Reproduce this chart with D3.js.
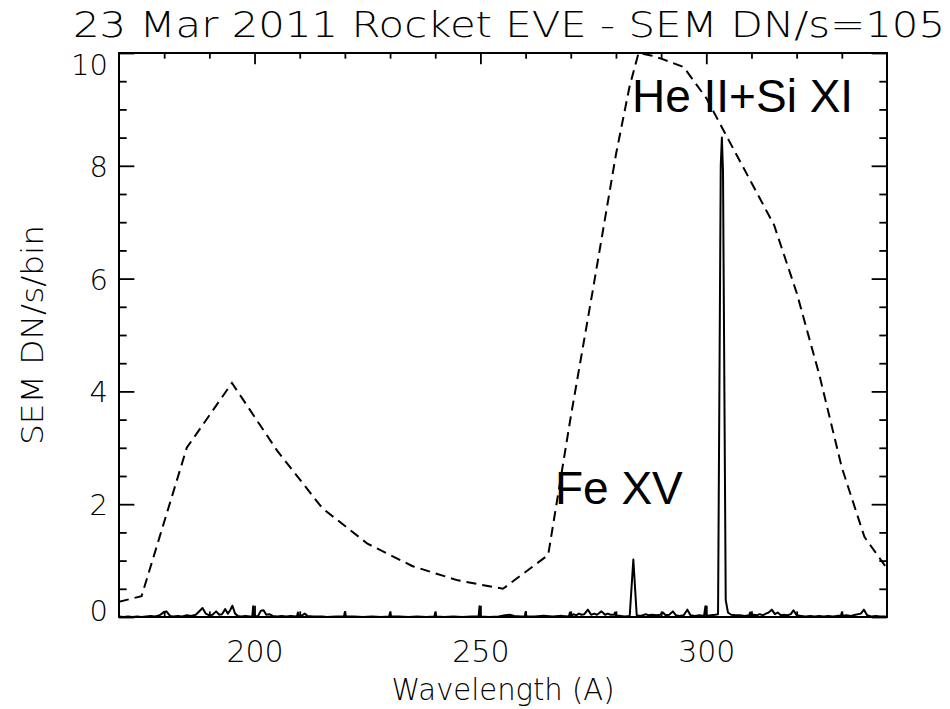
<!DOCTYPE html>
<html><head><meta charset="utf-8">
<script src="https://cdn.jsdelivr.net/npm/d3@7"></script>
<style>
body{margin:0;background:#fff}
svg{display:block;background:#fff}
.hf{font-family:'DejaVu Sans',sans-serif;font-weight:200;fill:#000}
.lab{font-family:'Liberation Sans',Arial,sans-serif;fill:#000}
</style></head>
<body><svg id="c" width="950" height="709"></svg>
<script>
// ---------- data ----------
const titleText = "23 Mar 2011 Rocket EVE - SEM DN/s=105";
const xTitle = "Wavelength (A)";
const yTitle = "SEM DN/s/bin";
const waveRange = [170, 340];
const fluxRange = [0, 10];
const xMajorTicks = [200, 250, 300];
const xMinorTicks = [180, 190, 210, 220, 230, 240, 260, 270, 280, 290, 310, 320, 330];
const yMajorTicks = [0, 2, 4, 6, 8, 10];
const yMinorTicks = [0.5, 1, 1.5, 2.5, 3, 3.5, 4.5, 5, 5.5, 6.5, 7, 7.5, 8.5, 9, 9.5];

// SEM response (dashed)
const respWave = [170, 175, 185, 195, 205, 215, 225, 235, 245, 255, 265, 270, 275, 280, 283, 285, 288, 290, 295, 300, 305, 310, 315, 320, 325, 330, 335, 340];
const respFlux = [0.27, 0.37, 3.0, 4.15, 2.95, 1.93, 1.3, 0.9, 0.65, 0.5, 1.1, 3.55, 5.85, 8.2, 9.4, 10.0, 9.95, 9.9, 9.75, 9.2, 8.45, 7.7, 6.95, 5.75, 4.3, 2.65, 1.42, 0.86];

// Rocket spectrum convolved to SEM (solid)
const specWave = [170,171,172,173,174,175,176,177,178,179,180,180.5,181.3,182,183,184,185,186,187,188,188.5,189.2,190,190.7,191.5,192.2,192.8,193.5,194.1,194.6,195.1,195.7,196.3,197,198,199,199.5,199.7,199.9,200.8,201.4,202,202.6,203.3,204,205,206,207,208,209.4,209.6,209.8,210.6,211.1,211.7,213,215,216,218,219.8,220,220.2,222,224,226,228,229.8,230,230.2,232,234,236,238,239.8,240,240.2,242,244,246,248,249.6,249.8,250,252,254,255.5,256.5,257.5,259,259.8,260,260.2,262,264,266,268,269.6,269.8,270,270.6,271.2,271.8,272.4,273,273.8,274.5,275.2,275.8,276.8,277.6,278.2,278.8,279.6,279.8,280,281,282,283.05,283.85,284.6,285.3,286,286.6,287.2,288,289,289.8,290.4,291,291.8,292.6,293.3,294,295,295.8,296.5,297.5,298.5,299.5,299.8,300,301,302,302.6,303.2,303.45,303.7,304.3,304.8,305.5,306.5,307.5,308.5,309.5,309.7,309.9,310.5,311.2,311.8,312.5,313.2,313.8,314.5,315.2,315.8,316.5,317.2,318,318.7,319.3,320,321,322,323,324,325,326,327,328,329,329.8,330,330.2,331,332,333,334.2,334.9,335.6,336.5,337.5,338.5,339.5,340];
const specFlux = [0.01,0.0,0.01,0.0,0.01,0.0,0.01,0.02,0.01,0.03,0.09,0.10,0.02,0.01,0.02,0.01,0.03,0.02,0.04,0.12,0.16,0.06,0.03,0.04,0.10,0.04,0.05,0.14,0.06,0.12,0.20,0.06,0.02,0.01,0.02,0.01,0.01,0.19,0.01,0.02,0.11,0.12,0.04,0.05,0.02,0.01,0.02,0.01,0.02,0.01,0.08,0.01,0.03,0.06,0.02,0.01,0.01,0.0,0.01,0.01,0.09,0.01,0.01,0.0,0.01,0.0,0.01,0.08,0.01,0.01,0.0,0.01,0.0,0.01,0.08,0.01,0.0,0.01,0.0,0.01,0.01,0.19,0.01,0.0,0.01,0.03,0.04,0.02,0.01,0.01,0.09,0.01,0.01,0.02,0.01,0.02,0.01,0.08,0.01,0.05,0.03,0.06,0.04,0.05,0.13,0.04,0.06,0.04,0.10,0.04,0.06,0.04,0.04,0.08,0.02,0.02,0.01,0.02,1.02,0.03,0.02,0.03,0.05,0.03,0.04,0.03,0.04,0.08,0.03,0.04,0.10,0.03,0.02,0.03,0.13,0.03,0.02,0.03,0.02,0.19,0.02,0.03,0.04,0.05,8.0,8.5,7.9,0.3,0.08,0.04,0.03,0.03,0.02,0.03,0.08,0.03,0.04,0.03,0.05,0.03,0.06,0.08,0.13,0.05,0.08,0.03,0.04,0.03,0.05,0.12,0.03,0.02,0.01,0.02,0.01,0.02,0.01,0.02,0.01,0.02,0.02,0.08,0.02,0.03,0.02,0.04,0.06,0.13,0.03,0.01,0.02,0.01,0.01,0.01];

const annotations = [
  {text: "Fe XV", wave: 266.5, flux: 2.0},
  {text: "He II+Si XI", wave: 283.55, flux: 8.95}
];

// ---------- layout ----------
const svg = d3.select('#c');
const L = 119, R = 887, T = 53, B = 617;
const x = d3.scaleLinear().domain(waveRange).range([L, R]);
const y = d3.scaleLinear().domain(fluxRange).range([B, T]);
const pw = R - L, ph = B - T;
const xMaj = ph * 0.02, xMin = xMaj / 2, yMaj = pw * 0.02, yMin = yMaj / 2;

svg.append('rect').attr('width', 950).attr('height', 709).attr('fill', '#fff');

svg.append('clipPath').attr('id', 'clip').append('rect')
  .attr('x', L).attr('y', T).attr('width', pw).attr('height', ph);

function styleAxis(g) {
  g.select('.domain').remove();
  g.selectAll('.tick line').attr('stroke', '#000').attr('stroke-width', 1.8);
}

// bottom
svg.append('g').attr('transform', `translate(0,${B})`)
  .call(d3.axisBottom(x).tickValues(xMajorTicks).tickSize(-xMaj).tickFormat(d3.format('d')))
  .call(styleAxis)
  .call(g => g.selectAll('text').attr('class', 'hf').attr('y', 45).attr('dy', null)
    .style('font-size', '30px').attr('fill', '#000'));
svg.append('g').attr('transform', `translate(0,${B})`)
  .call(d3.axisBottom(x).tickValues(xMinorTicks).tickSize(-xMin).tickFormat(''))
  .call(styleAxis);
// top
svg.append('g').attr('transform', `translate(0,${T})`)
  .call(d3.axisTop(x).tickValues(xMajorTicks).tickSize(-xMaj).tickFormat(''))
  .call(styleAxis);
svg.append('g').attr('transform', `translate(0,${T})`)
  .call(d3.axisTop(x).tickValues(xMinorTicks).tickSize(-xMin).tickFormat(''))
  .call(styleAxis);
// left
svg.append('g').attr('transform', `translate(${L},0)`)
  .call(d3.axisLeft(y).tickValues(yMajorTicks).tickSize(-yMaj).tickFormat(d3.format('d')))
  .call(styleAxis)
  .call(g => g.selectAll('text').attr('class', 'hf').attr('x', -11)
    .attr('dy', '0.36em')
    .attr('y', d => d === fluxRange[1] ? 11 : (d === fluxRange[0] ? -7 : 0))
    .style('font-size', '29px').attr('fill', '#000'));
svg.append('g').attr('transform', `translate(${L},0)`)
  .call(d3.axisLeft(y).tickValues(yMinorTicks).tickSize(-yMin).tickFormat(''))
  .call(styleAxis);
// right
svg.append('g').attr('transform', `translate(${R},0)`)
  .call(d3.axisRight(y).tickValues(yMajorTicks).tickSize(-yMaj).tickFormat(''))
  .call(styleAxis);
svg.append('g').attr('transform', `translate(${R},0)`)
  .call(d3.axisRight(y).tickValues(yMinorTicks).tickSize(-yMin).tickFormat(''))
  .call(styleAxis);

// frame
svg.append('rect').attr('x', L).attr('y', T).attr('width', pw).attr('height', ph)
  .attr('fill', 'none').attr('stroke', '#000').attr('stroke-width', 2);

// annotations
svg.selectAll('text.ann').data(annotations).enter().append('text')
  .attr('class', 'lab ann')
  .attr('x', d => x(d.wave)).attr('y', d => y(d.flux))
  .style('font-size', '46px').text(d => d.text);

const line = d3.line().x(d => x(d[0])).y(d => y(d[1]));
const plot = svg.append('g').attr('clip-path', 'url(#clip)');
plot.append('path').datum(d3.zip(respWave, respFlux))
  .attr('d', line).attr('fill', 'none').attr('stroke', '#000')
  .attr('stroke-width', 2).attr('stroke-dasharray', '10,6');
plot.append('path').datum(d3.zip(specWave, specFlux))
  .attr('d', line).attr('fill', 'none').attr('stroke', '#000')
  .attr('stroke-width', 2).attr('stroke-linejoin', 'round');

// titles
svg.append('text').attr('class', 'hf').attr('x', 73).attr('y', 37)
  .style('font-size', '36px').attr('textLength', 872).attr('lengthAdjust', 'spacingAndGlyphs')
  .text(titleText);
svg.append('text').attr('class', 'hf').attr('x', (L + R) / 2).attr('y', 700)
  .attr('text-anchor', 'middle').style('font-size', '31px')
  .attr('textLength', 223).attr('lengthAdjust', 'spacingAndGlyphs').text(xTitle);
svg.append('text').attr('class', 'hf')
  .attr('transform', `translate(43,${(T + B) / 2}) rotate(-90)`)
  .attr('text-anchor', 'middle').style('font-size', '31px')
  .attr('textLength', 220).attr('lengthAdjust', 'spacingAndGlyphs').text(yTitle);
</script></body></html>
